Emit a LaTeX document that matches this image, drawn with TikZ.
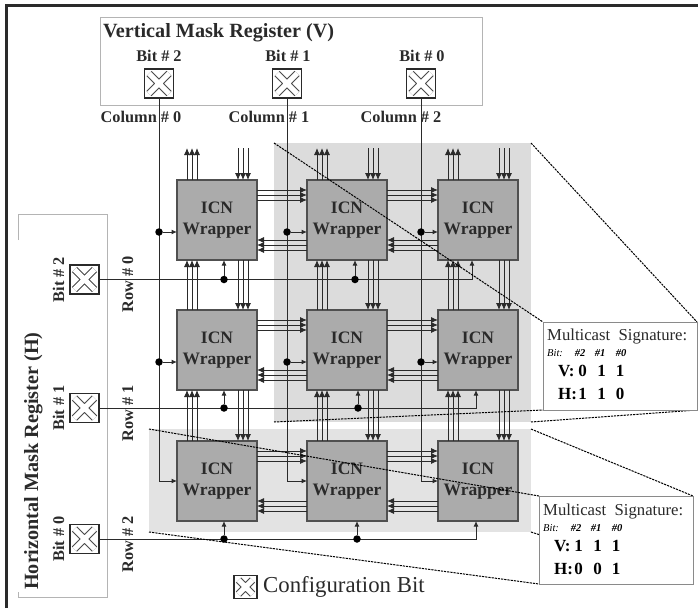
\documentclass[tikz,border=0pt]{standalone}
\usepackage{fontspec}
\setmainfont{Liberation Serif}
\usetikzlibrary{arrows.meta}

\definecolor{inkdark}{HTML}{2A2A2A}
\definecolor{wrapfill}{HTML}{ABABAB}
\definecolor{wrapedge}{HTML}{505050}
\definecolor{selcolfill}{HTML}{DCDCDC}
\definecolor{selrowfill}{HTML}{E3E3E3}
\definecolor{regedge}{HTML}{B4B4B4}
\definecolor{sigedge}{HTML}{8A8A8A}

\newcommand{\fsz}[1]{\fontsize{#1}{#1}\selectfont}
\newcommand{\crossbars}[2]{\draw[line width=#2, #1]
  ([shift={(4.5pt,4.5pt)}]path picture bounding box.south west) --
  ([shift={(-4.5pt,-4.5pt)}]path picture bounding box.north east)
  ([shift={(4.5pt,-4.5pt)}]path picture bounding box.north west) --
  ([shift={(-4.5pt,4.5pt)}]path picture bounding box.south east);}

\tikzset{
  wrapper/.style={draw=wrapedge, fill=wrapfill, line width=1.2pt, minimum width=80pt,
    minimum height=80pt, inner sep=0pt, outer sep=0pt, align=center,
    text=inkdark, font=\fontsize{17.5}{21}\bfseries\selectfont},
  cfgbit/.style={draw=inkdark, fill=white, line width=1.2pt, minimum size=#1,
    inner sep=0pt, outer sep=0pt,
    path picture={\crossbars{inkdark!85}{7.4pt}\crossbars{white}{5pt}}},
  cfgbit/.default=29pt,
  bus/.style={inkdark, line width=0.9pt, -{Latex[length=7pt,width=6pt]}},
  ctrl/.style={inkdark, line width=1pt},
  ctrlarrow/.style={ctrl, -{Latex[length=5.5pt,width=5pt]}},
  tapdot/.style={circle, fill=black, inner sep=0pt, minimum size=7.5pt},
  leader/.style={black, line width=1pt, dash pattern=on 2.2pt off 1pt},
  selarea/.style={inner sep=0pt, outer sep=0pt},
  sigbox/.style={draw=sigedge, fill=white, line width=1pt, minimum width=154pt,
    minimum height=88pt, inner sep=0pt, outer sep=0pt},
  boldlab/.style={text=inkdark, inner sep=0pt, font=\bfseries\fsz{16.3}},
}

\begin{document}
\begin{tikzpicture}[x=1pt, y=-1pt]
  \useasboundingbox (0,0) rectangle (698,608);
  % --- page rule ---
  \draw[inkdark, line width=2.6pt] (6.3,608) -- (6.3,5.5) -- (698,5.5);
  % --- selected areas ---
  \node[selarea, fill=selcolfill, minimum width=257pt, minimum height=279pt] (selcols) at (402.5,282.5) {};
  \node[selarea, fill=selrowfill, minimum width=382pt, minimum height=103pt] (selrow) at (340,480.5) {};
  % --- mask registers ---
  \node[draw=regedge, line width=1pt, minimum width=382pt, minimum height=88pt, inner sep=0pt] (vreg) at (291,61) {};
  \draw[regedge, line width=1pt] (18,240) -- (18,214) -- (107,214) -- (107,597) -- (18,597) -- (18,592);
  \node[anchor=base west, inner sep=0pt, text=inkdark, font=\bfseries\fsz{20.2}] at (103,37.5) {Vertical Mask Register (V)};
  \node[anchor=base west, rotate=90, inner sep=0pt, text=inkdark, font=\bfseries\fsz{20.2}] at (38,590) {Horizontal Mask Register (H)};
  % --- wrappers ---
  \foreach \cl/\x in {0/217,1/347,2/478}
    \foreach \rw/\y in {0/220,1/350,2/481}
      \node[wrapper] (w\cl\rw) at (\x,\y) {ICN\\Wrapper};
  % --- east and west buses ---
  \foreach \rw in {0,1,2}
    \foreach \cl/\nx in {0/1,1/2} {
      \foreach \s in {30,25,20}
        \draw[bus] ([yshift=\s pt]w\cl\rw.east) -- ([yshift=\s pt]w\nx\rw.west);
      \foreach \s in {-20,-25,-30}
        \draw[bus] ([yshift=\s pt]w\nx\rw.west) -- ([yshift=\s pt]w\cl\rw.east);
    }
  % --- north and south buses ---
  \foreach \cl in {0,1,2} {
    \coordinate (top\cl) at ([yshift=32pt]w\cl0.north);
    \foreach \s in {-30,-25,-20}
      \draw[bus] ([xshift=\s pt]w\cl0.north) -- ([xshift=\s pt]top\cl);
    \foreach \s in {21,26,31}
      \draw[bus] ([xshift=\s pt]top\cl) -- ([xshift=\s pt]w\cl0.north);
    \foreach \rw/\nx in {0/1,1/2} {
      \foreach \s in {-30,-25,-20}
        \draw[bus] ([xshift=\s pt]w\cl\nx.north) -- ([xshift=\s pt]w\cl\rw.south);
      \foreach \s in {21,26,31}
        \draw[bus] ([xshift=\s pt]w\cl\rw.south) -- ([xshift=\s pt]w\cl\nx.north);
    }
  }
  % --- vertical mask bits, one line per column ---
  \foreach \b/\x/\lx/\cl/\tx in {2/159/159/0/141, 1/287/288/1/269, 0/421/422/2/401} {
    \node[cfgbit] (vb\b) at (\x,83.5) {};
    \node[boldlab, anchor=base] at (\lx,61) {Bit \# \b};
    \node[boldlab, anchor=base] at (\tx,122) {Column \# \cl};
    \draw[ctrlarrow] (vb\b.south) |- (w\cl2.west);
    \foreach \rw in {0,1} {
      \coordinate (in\cl\rw) at ([yshift=-12pt]w\cl\rw.west);
      \node[tapdot] (tc\cl\rw) at (vb\b.south |- in\cl\rw) {};
      \draw[ctrlarrow] (tc\cl\rw) -- (in\cl\rw);
    }
  }
  % --- horizontal mask bits, one line per row ---
  \foreach \rw/\b/\y/\ly/\e/\m in {0/2/279.5/284/-6/8, 1/1/408/413/-2/11, 2/0/539/544/-2/10} {
    \node[cfgbit] (hb\b) at (84.5,\y) {};
    \node[boldlab, anchor=base, rotate=90] at ([xshift=-6pt]hb\b.west) {Bit \# \b};
    \node[boldlab, anchor=base, rotate=90] at (133,\ly) {Row \# \rw};
    \draw[ctrlarrow] (hb\b.east) -| ([xshift=\e pt]w2\rw.south);
    \coordinate (ina\rw) at ([xshift=7pt]w0\rw.south);
    \coordinate (inb\rw) at ([xshift=\m pt]w1\rw.south);
    \node[tapdot] (tra\rw) at (hb\b.east -| ina\rw) {};
    \node[tapdot] (trb\rw) at (hb\b.east -| inb\rw) {};
    \draw[ctrlarrow] (tra\rw) -- (ina\rw);
    \draw[ctrlarrow] (trb\rw) -- (inb\rw);
  }
  % --- leaders to the signature boxes ---
  \node[sigbox, draw=none, fill=none] (sigc) at (620,366) {};
  \node[sigbox, draw=none, fill=none] (sigr) at (616,540) {};
  \draw[leader] (selcols.north west) -- (sigc.north west);
  \draw[leader] (selcols.north east) -- (sigc.north east);
  \draw[leader] (selcols.south west) -- (sigc.south west);
  \draw[leader] (selcols.south east) -- (sigc.south east);
  \draw[leader] (selrow.north west) -- (sigr.north west);
  \draw[leader] (selrow.north east) -- (sigr.north east);
  \draw[leader] (selrow.south west) -- (sigr.south west);
  \draw[leader] (selrow.south east) -- (sigr.south east);
  % --- signature boxes ---
  \foreach \sg/\ox/\oy/\va/\vd/\vf/\ha/\hd/\hf in {sigc/547/340/0/1/1/1/1/0, sigr/543/515/1/1/1/0/0/1} {
    \node[sigbox] at (\sg) {};
    \begin{scope}[shift={(\ox,\oy)}]
      \node[anchor=base west, inner sep=0pt, text=inkdark, font=\fsz{16.7}] at (0,0) {Multicast\ \ Signature:};
      \node[anchor=west, inner sep=0pt, font=\itshape\fsz{10.5}] at (0,13) {Bit:};
      \foreach \px/\lab in {33/2,53/1,74/0}
        \node[inner sep=0pt, font=\bfseries\itshape\fsz{10.5}] at (\px,13) {\#\lab};
      \node[anchor=west, inner sep=0pt, font=\bfseries\fsz{17}] at (11,31) {V:};
      \node[anchor=west, inner sep=0pt, font=\bfseries\fsz{17}] at (11,54) {H:};
      \foreach \px/\vv/\hh in {35.5/\va/\ha, 54.5/\vd/\hd, 73/\vf/\hf} {
        \node[inner sep=0pt, font=\bfseries\fsz{17}] at (\px,31) {\vv};
        \node[inner sep=0pt, font=\bfseries\fsz{17}] at (\px,54) {\hh};
      }
    \end{scope}
  }
  % --- key ---
  \node[cfgbit=23pt] (keybit) at (245.5,587) {};
  \node[anchor=west, inner sep=0pt, text=inkdark, font=\fsz{22.8}] at (263,587) {Configuration Bit};
\end{tikzpicture}
\end{document}
